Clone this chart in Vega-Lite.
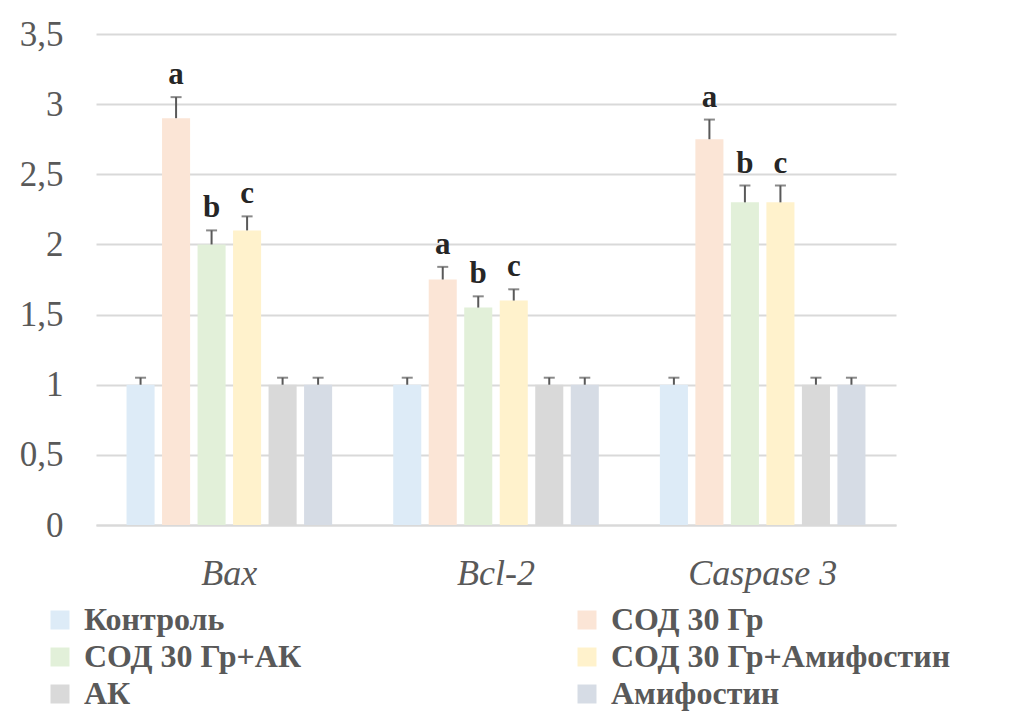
{
  "$schema": "https://vega.github.io/schema/vega-lite/v6.json",
  "autosize": "none",
  "width": 800,
  "height": 491,
  "padding": {"left": 96, "top": 34, "right": 125, "bottom": 191},
  "background": "white",
  "config": {"view": {"stroke": null}, "font": "Liberation Serif"},
  "data": {"values": [
    {"gene": "Bax", "group": "Контроль", "value": 1, "err": 0.05, "label": ""},
    {"gene": "Bax", "group": "СОД 30 Гр", "value": 2.9, "err": 0.15, "label": "a"},
    {"gene": "Bax", "group": "СОД 30 Гр+АК", "value": 2.0, "err": 0.1, "label": "b"},
    {"gene": "Bax", "group": "СОД 30 Гр+Амифостин", "value": 2.1, "err": 0.1, "label": "c"},
    {"gene": "Bax", "group": "АК", "value": 1, "err": 0.05, "label": ""},
    {"gene": "Bax", "group": "Амифостин", "value": 1, "err": 0.05, "label": ""},
    {"gene": "Bcl-2", "group": "Контроль", "value": 1, "err": 0.05, "label": ""},
    {"gene": "Bcl-2", "group": "СОД 30 Гр", "value": 1.75, "err": 0.09, "label": "a"},
    {"gene": "Bcl-2", "group": "СОД 30 Гр+АК", "value": 1.55, "err": 0.08, "label": "b"},
    {"gene": "Bcl-2", "group": "СОД 30 Гр+Амифостин", "value": 1.6, "err": 0.08, "label": "c"},
    {"gene": "Bcl-2", "group": "АК", "value": 1, "err": 0.05, "label": ""},
    {"gene": "Bcl-2", "group": "Амифостин", "value": 1, "err": 0.05, "label": ""},
    {"gene": "Caspase 3", "group": "Контроль", "value": 1, "err": 0.05, "label": ""},
    {"gene": "Caspase 3", "group": "СОД 30 Гр", "value": 2.75, "err": 0.14, "label": "a"},
    {"gene": "Caspase 3", "group": "СОД 30 Гр+АК", "value": 2.3, "err": 0.12, "label": "b"},
    {"gene": "Caspase 3", "group": "СОД 30 Гр+Амифостин", "value": 2.3, "err": 0.12, "label": "c"},
    {"gene": "Caspase 3", "group": "АК", "value": 1, "err": 0.05, "label": ""},
    {"gene": "Caspase 3", "group": "Амифостин", "value": 1, "err": 0.05, "label": ""}
  ]},
  "transform": [{"calculate": "datum.value + datum.err", "as": "hi"}],
  "encoding": {
    "x": {
      "field": "gene", "type": "nominal", "sort": null, "title": null,
      "scale": {"paddingInner": 0, "paddingOuter": 0},
      "axis": {
        "labelAngle": 0, "labelFont": "Liberation Serif", "labelFontStyle": "italic",
        "labelFontSize": 36, "labelColor": "#595959", "labelPadding": 31,
        "ticks": false, "domainColor": "#d9d9d9", "domainWidth": 2
      }
    },
    "xOffset": {
      "field": "group", "type": "nominal", "sort": null,
      "scale": {"paddingInner": 0.21, "paddingOuter": 0.86}
    }
  },
  "layer": [
    {
      "mark": {"type": "bar"},
      "encoding": {
        "y": {
          "field": "value", "type": "quantitative", "title": null,
          "scale": {"domain": [0, 3.5], "nice": false},
          "axis": {
            "values": [0, 0.5, 1, 1.5, 2, 2.5, 3, 3.5],
            "labelExpr": "replace(toString(datum.value), '.', ',')",
            "labelFont": "Liberation Serif", "labelFontSize": 35, "labelColor": "#595959",
            "labelPadding": 33, "ticks": false, "domain": false,
            "gridColor": "#d9d9d9", "gridWidth": 2
          }
        },
        "color": {
          "field": "group", "type": "nominal", "sort": null, "title": null,
          "scale": {
            "domain": ["Контроль", "СОД 30 Гр", "СОД 30 Гр+АК", "СОД 30 Гр+Амифостин", "АК", "Амифостин"],
            "range": ["#DDEBF7", "#FBE5D6", "#E2F0D9", "#FFF2CC", "#D9D9D9", "#D6DCE5"]
          },
          "legend": {
            "orient": "none", "legendX": -52, "legendY": 570, "columns": 2,
            "direction": "horizontal",
            "symbolType": "square", "symbolSize": 361, "symbolStrokeWidth": 0,
            "labelFont": "Liberation Serif", "labelFontWeight": "bold", "labelFontSize": 32,
            "labelColor": "#595959", "labelOffset": 8, "labelLimit": 600,
            "rowPadding": 5, "columnPadding": 269
          }
        }
      }
    },
    {
      "mark": {"type": "rule", "color": "#595959", "strokeWidth": 2},
      "encoding": {"y": {"field": "value", "type": "quantitative"}, "y2": {"field": "hi"}}
    },
    {
      "mark": {"type": "tick", "color": "#595959", "thickness": 2, "size": 11, "orient": "horizontal"},
      "encoding": {"y": {"field": "hi", "type": "quantitative"}}
    },
    {
      "mark": {"type": "text", "font": "Liberation Serif", "fontWeight": "bold", "fontSize": 31, "color": "#262626", "baseline": "bottom", "dy": -6},
      "encoding": {"y": {"field": "hi", "type": "quantitative"}, "text": {"field": "label"}}
    }
  ]
}
